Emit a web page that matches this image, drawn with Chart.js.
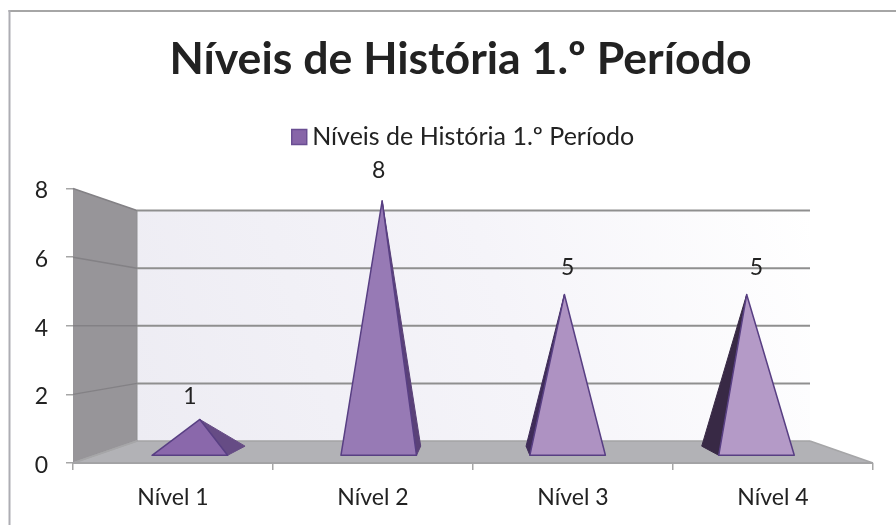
<!DOCTYPE html>
<html>
<head>
<meta charset="utf-8">
<style>
  html, body { margin: 0; padding: 0; background: #fff; }
  canvas { display: block; }
</style>
</head>
<body>
<canvas id="myChart" width="896" height="525"></canvas>

<script src="https://cdn.jsdelivr.net/npm/chart.js"></script>
<script>
  const categories = ['Nível 1', 'Nível 2', 'Nível 3', 'Nível 4']
  const values = [1, 8, 5, 5]
  const seriesName = 'Níveis de História 1.º Período'
  const chartTitle = 'Níveis de História 1.º Período'

  // front / side colour of each pyramid
  const frontColors = ['#8a68ab', '#977ab5', '#ae92c2', '#b49ac7']
  const sideColors = ['#664c85', '#5a4178', '#3f2c58', '#382945']

  // how far the back wall is pushed in from the front plane, in px
  const depth = { left: 64, right: -63, top: 22, bottom: -22 }
  const baseFront = 0.35
  const baseBack = 0.767
  const halfWidth = 0.2
  const labelDepth = 0.35
  const labelLift = 26

  const textColor = '#222222'
  const gridColor = '#8f8f8f'

  function projector(chart) {
    const { left, right, top, bottom } = chart.chartArea
    const xs = chart.scales.x
    const ys = chart.scales.y
    const step = xs.getPixelForValue(1) - xs.getPixelForValue(0)
    // cat can be fractional, d goes 0 (front) to 1 (back wall)
    return (cat, val, d) => {
      const fx = xs.getPixelForValue(0) + cat * step
      const fy = ys.getPixelForValue(val)
      const tx = (fx - left) / (right - left)
      const ty = (fy - top) / (bottom - top)
      return {
        x: fx + d * (depth.left + tx * (depth.right - depth.left)),
        y: fy + d * (depth.top + ty * (depth.bottom - depth.top))
      }
    }
  }

  function poly(ctx, pts, fill, stroke, lw) {
    ctx.beginPath()
    pts.forEach((p, i) => i ? ctx.lineTo(p.x, p.y) : ctx.moveTo(p.x, p.y))
    ctx.closePath()
    if (fill) { ctx.fillStyle = fill; ctx.fill() }
    if (stroke) { ctx.strokeStyle = stroke; ctx.lineWidth = lw; ctx.lineJoin = 'round'; ctx.stroke() }
  }

  function line(ctx, a, b, color, lw) {
    ctx.beginPath()
    ctx.moveTo(a.x, a.y)
    ctx.lineTo(b.x, b.y)
    ctx.strokeStyle = color
    ctx.lineWidth = lw
    ctx.stroke()
  }

  const pyramids = {
    id: 'pyramids',
    beforeDraw: (chart) => {
      // only the top and left of the frame are inside the picture
      const { ctx, width, height } = chart
      ctx.save()
      line(ctx, { x: 8.5, y: 11 }, { x: width, y: 11 }, '#a6a6a6', 2)
      line(ctx, { x: 9.5, y: 10 }, { x: 9.5, y: height }, '#adadb3', 2)
      ctx.restore()
    },
    afterLayout: (chart) => {
      // title and legend sit off the plot's centre in the original
      chart.titleBlock.left += 14
      chart.titleBlock.right += 14
      chart.legend.left += 20
      chart.legend.right += 20
      chart.legend.top -= 29
      chart.legend.bottom -= 29
    },
    beforeDatasetsDraw: (chart) => {
      const { ctx } = chart
      const p = projector(chart)
      const n = categories.length
      const ymin = chart.scales.y.min
      const ymax = chart.scales.y.max

      ctx.save()

      // back wall
      const bl = p(-0.5, ymin, 1), br = p(n - 0.5, ymin, 1)
      const tl = p(-0.5, ymax, 1), tr = p(n - 0.5, ymax, 1)
      const fl = p(-0.5, ymin, 0), fr = p(n - 0.5, ymin, 0)
      const ftl = p(-0.5, ymax, 0)
      const grad = ctx.createLinearGradient(bl.x, bl.y, tr.x, tr.y)
      grad.addColorStop(0, '#edecf3')
      grad.addColorStop(0.55, '#f5f4f9')
      grad.addColorStop(1, '#ffffff')
      poly(ctx, [tl, tr, br, bl], grad)

      // left wall and floor
      poly(ctx, [ftl, tl, bl, fl], '#979599')
      poly(ctx, [fl, bl, br, fr], '#b2b2b6')
      line(ctx, bl, br, '#a3a3a5', 1.5)
      line(ctx, tl, bl, '#8f8f91', 1)
      line(ctx, br, fr, '#a6a6a8', 1.5)
      line(ctx, fl, bl, '#a6a6a8', 1.5)

      // gridlines run along the left wall then across the back
      chart.scales.y.ticks.forEach((t) => {
        const a = p(-0.5, t.value, 0), b = p(-0.5, t.value, 1), c = p(n - 0.5, t.value, 1)
        line(ctx, a, b, t.value > ymin ? '#838185' : '#a6a6a8', 1.5)
        if (t.value > ymin) line(ctx, b, c, gridColor, 2)
      })
      line(ctx, fl, fr, '#a3a3a5', 2)

      values.forEach((v, i) => {
        const apex = p(i, v, (baseFront + baseBack) / 2)
        const a = p(i - halfWidth, ymin, baseFront)
        const b = p(i + halfWidth, ymin, baseFront)
        const c = p(i + halfWidth, ymin, baseBack)
        const d = p(i - halfWidth, ymin, baseBack)
        if (c.x > b.x) poly(ctx, [b, c, apex], sideColors[i], sideColors[i], 1)
        if (d.x < a.x) poly(ctx, [a, d, apex], sideColors[i], sideColors[i], 1)
        poly(ctx, [a, b, apex], frontColors[i], '#583f83', 1.5)
      })

      // value labels
      ctx.font = '23px Lato'
      ctx.fillStyle = textColor
      ctx.textAlign = 'center'
      ctx.textBaseline = 'middle'
      values.forEach((v, i) => {
        const q = p(i, v, labelDepth)
        ctx.fillText(String(v), q.x, q.y - labelLift)
      })

      ctx.restore()
      return false
    }
  }

  new Chart(document.getElementById('myChart'), {
    type: 'bar',
    data: {
      labels: categories,
      datasets: [{
        label: seriesName,
        data: values,
        backgroundColor: '#8765a8',
        borderColor: '#6a4e92',
        borderWidth: 1.5
      }]
    },
    options: {
      responsive: false,
      animation: false,
      layout: { padding: { left: 20, right: 23, top: 0, bottom: 0 } },
      scales: {
        x: {
          afterFit: (s) => { s.height = 62 },
          grid: { drawOnChartArea: false, color: '#a6a6a6', lineWidth: 1.5, tickLength: 7 },
          border: { display: false },
          ticks: { color: textColor, font: { family: 'Lato', size: 23 }, padding: 14, maxRotation: 0 }
        },
        y: {
          min: 0,
          max: 8,
          afterFit: (s) => { s.width = 53 },
          grid: { drawOnChartArea: false, color: '#a6a6a6', lineWidth: 1.5, tickLength: 7 },
          border: { display: false },
          ticks: {
            stepSize: 2,
            color: textColor,
            font: { family: 'Lato', size: 23, lineHeight: '5px' },
            padding: 18,
            // blank first line nudges the numbers just below their tick
            callback: (v) => ['', String(v)]
          }
        }
      },
      plugins: {
        title: {
          display: true,
          text: chartTitle,
          color: textColor,
          font: { family: 'Lato', size: 44.6, weight: 'bold' },
          padding: { top: 33, bottom: 57 }
        },
        legend: {
          display: true,
          labels: {
            color: textColor,
            font: { family: 'Lato', size: 25 },
            usePointStyle: true,
            pointStyle: 'rect',
            boxWidth: 1,
            boxHeight: 15,
            padding: 10
          }
        },
        tooltip: { enabled: false }
      }
    },
    plugins: [pyramids]
  })
</script>
</body>
</html>
